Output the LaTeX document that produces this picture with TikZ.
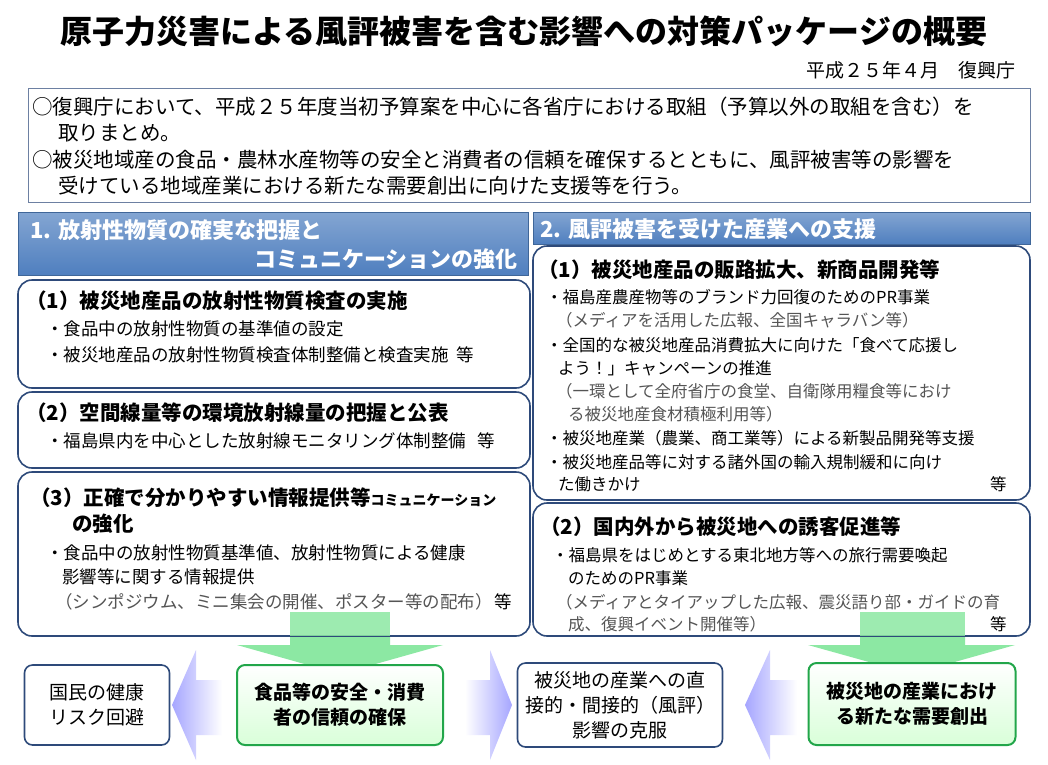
\documentclass[tikz,border=0pt]{standalone}
\usepackage{fontspec}
\setmainfont{Noto Sans CJK JP}
\usetikzlibrary{shapes.geometric}
\definecolor{bbord}{HTML}{2E4A7A}
\definecolor{gbord}{HTML}{22A64A}
\definecolor{hblue}{HTML}{4F7FBF}
\definecolor{gtxt}{HTML}{555555}
\begin{document}
\begin{tikzpicture}[x=1pt,y=-1pt,
  t/.style={anchor=west,inner sep=0pt,font=\fontsize{16.5}{18}\selectfont},
  tl/.style={anchor=west,inner sep=0pt,font=\fontsize{17.5}{18}\selectfont},
  tb/.style={anchor=west,inner sep=0pt,font=\fontsize{20.5}{22}\selectfont\bfseries},
  tg/.style={t,text=gtxt},
  tlg/.style={tl,text=gtxt},
  ti/.style={anchor=west,inner sep=0pt,font=\fontsize{20.5}{22}\selectfont},
  rbox/.style={draw=bbord,line width=1.6pt,rounded corners=14pt},
  sbox/.style={draw=bbord,line width=1.6pt,rounded corners=8pt,fill=white,align=center,font=\fontsize{19}{25}\selectfont},
  gbox/.style={draw=gbord,line width=2pt,rounded corners=8pt,top color=white,bottom color=green!15!white,align=center,font=\fontsize{19}{25}\selectfont\bfseries},
  hbar/.style={top color=hblue!70!white,bottom color=hblue,draw=hblue!80!black,line width=0.5pt},
  garrow/.style={fill=green!60!teal!45!white,draw=none}]
\useasboundingbox (0,0) rectangle (1048,764);
\fill[white] (0,0) rectangle (1048,764);
\node[inner sep=0pt,font=\fontsize{32}{34}\selectfont\bfseries] (title) at (524,31) {原子力災害による風評被害を含む影響への対策パッケージの概要};
\node[inner sep=0pt,anchor=east,font=\fontsize{19}{20}\selectfont] (date) at (1016,70) {平成２５年４月　復興庁};
% intro
\draw[draw=bbord!70,line width=0.8pt] (28,88) rectangle (1030,202);
\node[ti] (i1) at (32,107) {○復興庁において、平成２５年度当初予算案を中心に各省庁における取組（予算以外の取組を含む）を};
\node[ti] (i2) at (58,133) {取りまとめ。};
\node[ti] (i3) at (32,160) {○被災地域産の食品・農林水産物等の安全と消費者の信頼を確保するとともに、風評被害等の影響を};
\node[ti] (i4) at (58,186) {受けている地域産業における新たな需要創出に向けた支援等を行う。};
% header bars
\draw[hbar] (18,212) rectangle (528,275);
\node[anchor=west,inner sep=0pt,text=white,font=\fontsize{22}{24}\selectfont\bfseries] (h1a) at (30,230) {1. 放射性物質の確実な把握と};
\node[anchor=east,inner sep=0pt,text=white,font=\fontsize{22}{24}\selectfont\bfseries] (h1b) at (518,259) {コミュニケーションの強化};
\draw[hbar] (533,212) rectangle (1030,244);
\node[anchor=west,inner sep=0pt,text=white,font=\fontsize{22}{24}\selectfont\bfseries] (h2) at (540,229) {2. 風評被害を受けた産業への支援};
% green arrows
\fill[garrow] (290,612) -- (390,612) -- (390,645) -- (443,645) -- (340,674) -- (237,645) -- (290,645) -- cycle;
\fill[garrow] (860,612) -- (965,612) -- (965,645) -- (1015,645) -- (912,674) -- (808,645) -- (860,645) -- cycle;
% left boxes
\draw[rbox,fill=white] (18,280) rectangle (530,388);
\node[tb] (l1) at (26,301) {（1）被災地産品の放射性物質検査の実施};
\node[tl] (l1a) at (46,329) {・食品中の放射性物質の基準値の設定};
\node[tl] (l1b) at (46,355) {・被災地産品の放射性物質検査体制整備と検査実施\ \ 等};
\draw[rbox,fill=white] (18,392) rectangle (530,468);
\node[tb] (l2) at (26,413) {（2）空間線量等の環境放射線量の把握と公表};
\node[tl] (l2a) at (46,441) {・福島県内を中心とした放射線モニタリング体制整備\ \ \ 等};
\draw[rbox,fill=white] (18,472) rectangle (530,636);
\node[tb] (l3) at (30,498) {（3）正確で分かりやすい情報提供等{\fontsize{14}{14}\selectfont コミュニケーション}};
\node[tb] (l3b) at (72,524) {の強化};
\node[tl] (l3c) at (46,553) {・食品中の放射性物質基準値、放射性物質による健康};
\node[tl] (l3d) at (62,577) {影響等に関する情報提供};
\node[tlg] (l3e) at (55,602) {（シンポジウム、ミニ集会の開催、ポスター等の配布）};
\node[tl] (l3f) at (494,602) {等};
% right boxes
\draw[rbox,fill=white] (533,246) rectangle (1030,500);
\node[tb] (r1) at (538,270) {（1）被災地産品の販路拡大、新商品開発等};
\node[t] (r1a) at (546,297) {・福島産農産物等のブランド力回復のためのPR事業};
\node[tg] (r1b) at (556,320) {（メディアを活用した広報、全国キャラバン等）};
\node[t] (r1c) at (546,345) {・全国的な被災地産品消費拡大に向けた「食べて応援し};
\node[t] (r1d) at (558,368) {よう！」キャンペーンの推進};
\node[tg] (r1e) at (556,391) {（一環として全府省庁の食堂、自衛隊用糧食等におけ};
\node[tg] (r1f) at (568,414) {る被災地産食材積極利用等）};
\node[t] (r1g) at (546,438) {・被災地産業（農業、商工業等）による新製品開発等支援};
\node[t] (r1h) at (546,462) {・被災地産品等に対する諸外国の輸入規制緩和に向け};
\node[t] (r1i) at (558,484) {た働きかけ};
\node[t] (r1j) at (990,484) {等};
\draw[rbox,fill=white] (533,503) rectangle (1030,636);
\node[tb] (r2) at (540,527) {（2）国内外から被災地への誘客促進等};
\node[t] (r2a) at (552,555) {・福島県をはじめとする東北地方等への旅行需要喚起};
\node[t] (r2b) at (568,578) {のためのPR事業};
\node[tg] (r2c) at (556,602) {（メディアとタイアップした広報、震災語り部・ガイドの育};
\node[tg] (r2d) at (568,624) {成、復興イベント開催等）};
\node[t] (r2e) at (990,624) {等};
\fill[garrow,opacity=0.85] (290,612) rectangle (390,636);
\fill[garrow,opacity=0.85] (860,612) rectangle (965,636);
% blue arrows
\shade[left color=blue!35!white,right color=white] (172,705) -- (196,650) -- (196,680) -- (222,680) -- (222,735) -- (196,735) -- (196,760) -- cycle;
\shade[left color=white,right color=blue!35!white] (465,680) -- (490,680) -- (490,650) -- (512,705) -- (490,760) -- (490,735) -- (465,735) -- cycle;
\shade[left color=blue!35!white,right color=white] (745,705) -- (770,650) -- (770,680) -- (797,680) -- (797,735) -- (770,735) -- (770,760) -- cycle;
% bottom boxes
\node[sbox,minimum width=145pt,minimum height=80pt] (ba) at (97,705) {国民の健康\\リスク回避};
\node[gbox,minimum width=206pt,minimum height=80pt] (bb) at (340,705) {食品等の安全・消費\\者の信頼の確保};
\node[sbox,minimum width=205pt,minimum height=84pt] (bc) at (620,705) {被災地の産業への直\\接的・間接的（風評）\\影響の克服};
\node[gbox,minimum width=207pt,minimum height=82pt] (bd) at (912,704) {被災地の産業におけ\\る新たな需要創出};
\end{tikzpicture}
\end{document}
